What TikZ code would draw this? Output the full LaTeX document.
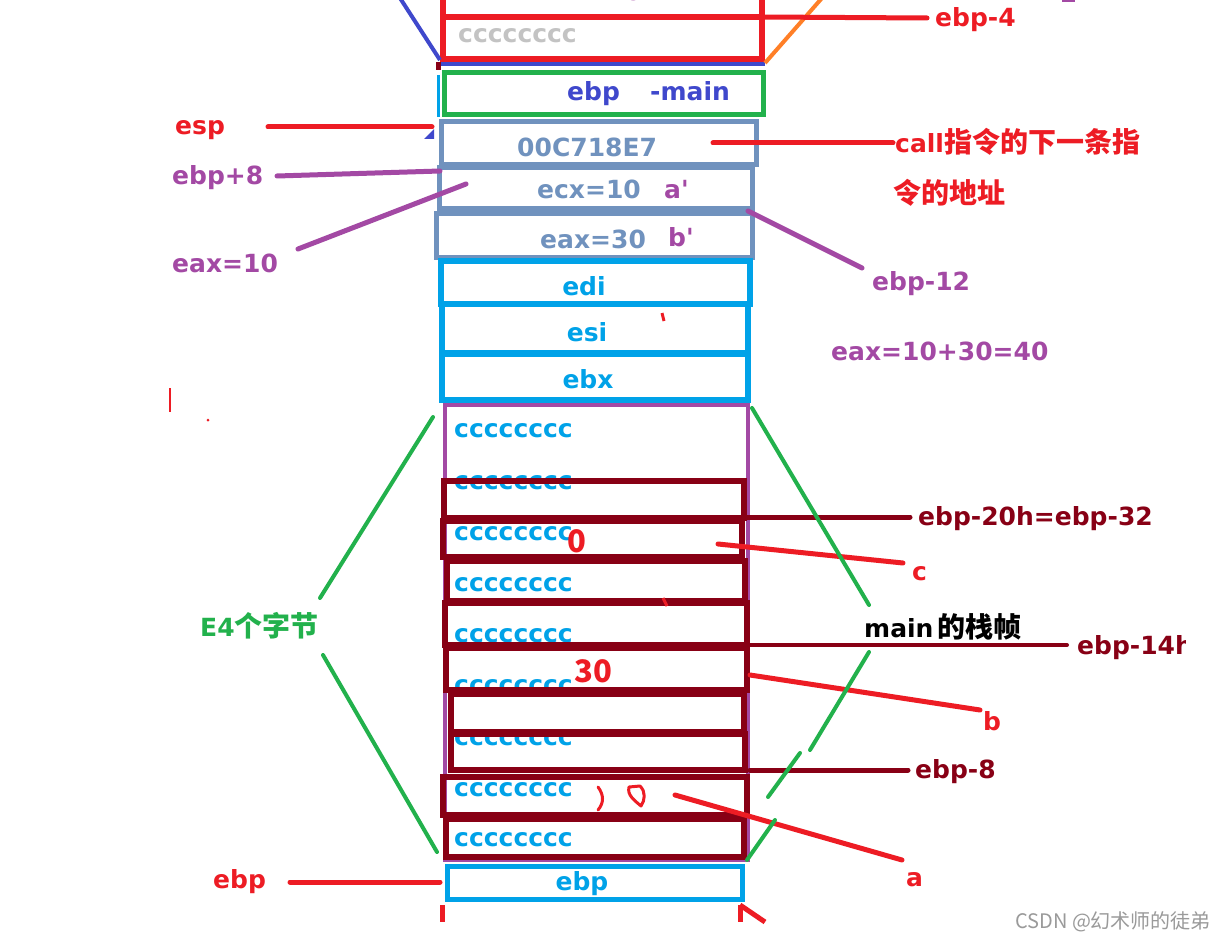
\documentclass[tikz,border=0pt]{standalone}
\usepackage{fontspec}
\setmainfont{DejaVu Sans}
\newfontfamily\dvplain{DejaVu Sans}
\newfontfamily\cjk{Noto Sans CJK SC}
\newcommand\cjt[1]{{\cjk\bfseries\fontsize{28}{30}\selectfont #1}}
\newcommand\sq{{\dvplain\bfseries '}}
\definecolor{cred}{HTML}{ED1C24}
\definecolor{cdred}{HTML}{880015}
\definecolor{cpurp}{HTML}{A349A4}
\definecolor{csteel}{HTML}{7092BE}
\definecolor{ccyan}{HTML}{00A2E8}
\definecolor{cgreen}{HTML}{22B14C}
\definecolor{cblue}{HTML}{3F48CC}
\definecolor{corange}{HTML}{FF7F27}
\definecolor{cgray}{HTML}{C3C3C3}
\definecolor{cwm}{HTML}{9A9A9A}
\tikzset{
  lab/.style={inner sep=0pt, anchor=base west, font=\fontsize{25}{30}\selectfont\bfseries},
  labc/.style={lab, anchor=base},
  hand/.style={inner sep=0pt, anchor=base, font=\cjk\fontsize{31}{32}\selectfont\bfseries},
  pen/.style={line width=5pt, line cap=round},
  boxline/.style={line width=6pt},
  cell/.style={line width=5pt}
}
\begin{document}
\begin{tikzpicture}[x=1pt,y=-1pt]
\useasboundingbox (0,0) rectangle (1221,939);
\fill[white] (0,0) rectangle (1221,939);

% ---------- top frame ----------
\draw[cblue, line width=2pt] (441,-5) rectangle (764,64);
\draw[cblue, line width=4pt] (440,64) -- (765,64);
\node[lab, cpurp] (top10) at (607,1) {10};
\draw[cred, boxline] (443,-10) rectangle (762,17);
\draw[cred, boxline] (443,17) rectangle (762,59);
\node[lab, cgray] (grayc) at (458,43) {cccccccc};
\coordinate (blueA) at (400,-2);
\coordinate (blueB) at (440,60);
\draw[cblue, line width=4pt] (blueA) -- (blueB);
\coordinate (orA) at (765,63);
\coordinate (orB) at (822,-2);
\draw[corange, line width=4pt] (orA) -- (orB);
\node[lab, cred] (l-ebp4) at (935,27) {ebp-4};
\coordinate (ebp4s) at (762,17);
\coordinate (ebp4e) at (927,18);
\draw[cred, pen] (ebp4s) -- (ebp4e);
\draw[cpurp, line width=3pt] (1062,1) -- (1075,1);

% small marks at left edge
\fill[cdred] (436,62) rectangle (441,70);
\draw[ccyan, line width=3pt] (438,75) -- (438,117);

% ---------- ebp -main ----------
\draw[cgreen, cell] (444,72.5) rectangle (763,114.5);
\node[lab, cblue] (t-ebp) at (567,101) {ebp};
\node[lab, cblue] (t-main) at (650,101) {-main};

% ---------- esp / return address ----------
\node[lab, cred] (l-esp) at (175,135) {esp};
\coordinate (esp1) at (268,127);
\coordinate (esp2) at (432,127);
\draw[cred, pen] (esp1) -- (esp2);
\fill[cblue] (424,139) -- (434,129) -- (434,139) -- cycle;

\draw[csteel, cell] (441,122) rectangle (756,165);
\node[lab, csteel] (t-ret) at (517,157) {00C718E7};
\node[lab, cred] (l-call) at (895,153) {call\cjt{指令的下一条指}};
\node[lab, cred] (l-call2) at (893,203) {\cjt{令的地址}};
\coordinate (call1) at (713,143);
\coordinate (call2) at (893,143);
\draw[cred, pen] (call1) -- (call2);

% ---------- parameters ----------
\draw[csteel, cell] (439,168) rectangle (752,208);
\draw[csteel, cell] (436,213) rectangle (752,257);
\node[lab, csteel] (t-ecx) at (537,198) {ecx=10};
\node[lab, cpurp] (t-ap) at (664,198) {a\sq};
\node[lab, csteel] (t-eax) at (540,248) {eax=30};
\node[lab, cpurp] (t-bp) at (668,246) {b\sq};

\node[lab, cpurp] (l-ebp8) at (172,184) {ebp+8};
\coordinate (e8a) at (277,176);
\coordinate (e8b) at (440,171);
\draw[cpurp, pen] (e8a) -- (e8b);
\node[lab, cpurp] (l-eax10) at (172,272) {eax=10};
\coordinate (x10a) at (298,249);
\coordinate (x10b) at (466,184);
\draw[cpurp, pen] (x10a) -- (x10b);
\node[lab, cpurp] (l-ebp12) at (872,290) {ebp-12};
\coordinate (e12a) at (748,211);
\coordinate (e12b) at (862,268);
\draw[cpurp, pen] (e12a) -- (e12b);
\node[lab, cpurp] (l-sum) at (831,360) {eax=10+30=40};

% ---------- saved registers ----------
\draw[ccyan, boxline] (441,261) rectangle (750,303.5);
\draw[ccyan, boxline] (442,304) rectangle (748,353);
\draw[ccyan, boxline] (442,354) rectangle (748,400);
\node[labc, ccyan] (t-edi) at (584,295) {edi};
\node[labc, ccyan] (t-esi) at (587,341) {esi};
\node[labc, ccyan] (t-ebx) at (588,388) {ebx};
\draw[cred, line width=3pt] (662,313) -- (664,321);

% ---------- locals area ----------
\draw[cpurp, line width=4pt] (445,405) rectangle (748,860);
\foreach \yy [count=\i] in {437,489,540,591,642,693,745,796,846}
  \node[lab, ccyan] (cc\i) at (454,\yy) {cccccccc};

\draw[cdred, boxline] (444,481) rectangle (744,518);
\draw[cdred, boxline] (443,521) rectangle (742,557);
\draw[cdred, boxline] (447,561) rectangle (745,601);
\draw[cdred, boxline] (445,603) rectangle (747,645);
\draw[cdred, boxline] (446,648) rectangle (747,690);
\draw[cdred, boxline] (451,694) rectangle (744,732);
\draw[cdred, boxline] (451,734) rectangle (745,770);
\draw[cdred, boxline] (443,777) rectangle (747,815);
\draw[cdred, boxline] (446,819) rectangle (744,857);

\node[hand, cred] (t-zero) at (577,552) {0};
\node[hand, cred] (t-thirty) at (593,682) {30};
\draw[cred, line width=3pt, line cap=round] (598,787) .. controls (604,795) and (604,803) .. (598,810);
\draw[cred, line width=3pt, line join=round] (629,787) -- (640,786) .. controls (646,792) and (645,800) .. (641,806) .. controls (634,800) and (627,795) .. cycle;
\draw[cred, line width=3pt] (663,598) -- (667,606);

% dark red labels
\node[lab, cdred] (l-ebp20) at (918,525) {ebp-20h=ebp-32};
\coordinate (d20a) at (745,517);
\coordinate (d20b) at (910,517);
\draw[cdred, pen] (d20a) -- (d20b);
\begin{scope}
  \clip (0,0) rectangle (1185,939);
  \node[lab, cdred] (l-ebp14) at (1077,654) {ebp-14h};
\end{scope}
\coordinate (d14a) at (748,645);
\coordinate (d14b) at (1067,645);
\draw[cdred, line width=4pt, line cap=round] (d14a) -- (d14b);
\node[lab, cdred] (l-ebp8m) at (915,778) {ebp-8};
\coordinate (d8a) at (750,770);
\coordinate (d8b) at (908,770);
\draw[cdred, pen] (d8a) -- (d8b);

% variable labels
\node[lab, cred] (l-c) at (912,580) {c};
\coordinate (ca) at (718,544);
\coordinate (cb) at (903,563);
\draw[cred, pen] (ca) -- (cb);
\node[lab, cred] (l-b) at (983,730) {b};
\coordinate (ba) at (750,675);
\coordinate (bb) at (980,710);
\draw[cred, pen] (ba) -- (bb);
\node[lab, cred] (l-a) at (906,886) {a};
\coordinate (aa) at (675,795);
\coordinate (ab) at (902,860);
\draw[cred, pen] (aa) -- (ab);

% green braces
\node[lab, cgreen] (l-e4) at (200,636) {E4\cjt{个字节}};
\node[lab, black] (l-main) at (864,637) {main\hspace{4pt}\cjt{的栈帧}};
\coordinate (g1) at (433,417);
\coordinate (g2) at (320,598);
\coordinate (g3) at (323,655);
\coordinate (g4) at (437,852);
\coordinate (g5) at (752,408);
\coordinate (g6) at (869,605);
\coordinate (g7) at (869,652);
\coordinate (g8) at (810,750);
\coordinate (g9) at (800,753);
\coordinate (g10) at (768,797);
\coordinate (g11) at (775,820);
\coordinate (g12) at (747,860);
\draw[cgreen, line width=4pt, line cap=round] (g1) -- (g2);
\draw[cgreen, line width=4pt, line cap=round] (g3) -- (g4);
\draw[cgreen, line width=4pt, line cap=round] (g5) -- (g6);
\draw[cgreen, line width=4pt, line cap=round] (g7) -- (g8);
\draw[cgreen, line width=4pt, line cap=round] (g9) -- (g10);
\draw[cgreen, line width=4pt, line cap=round] (g11) -- (g12);

% ---------- bottom ebp ----------
\draw[ccyan, cell] (447,866) rectangle (742,899);
\node[labc, ccyan] (t-ebpB) at (582,890) {ebp};
\node[lab, cred] (l-ebpL) at (213,888) {ebp};
\coordinate (eba) at (290,882);
\coordinate (ebb) at (440,882);
\draw[cred, pen] (eba) -- (ebb);
\draw[cred, line width=5pt] (442,905) -- (442,922);
\draw[cred, line width=5pt] (740,905) -- (740,922);
\draw[cred, line width=5pt] (740,905) -- (765,922);

% stray marks
\draw[cred, line width=2pt] (170,388) -- (170,412);
\fill[cred] (208,420) circle (1.5);

% watermark
\node[inner sep=0pt, anchor=base west, cwm, font=\cjk\fontsize{20}{22}\selectfont] (wm) at (1015,928) {CSDN @幻术师的徒弟};
\end{tikzpicture}
\end{document}
